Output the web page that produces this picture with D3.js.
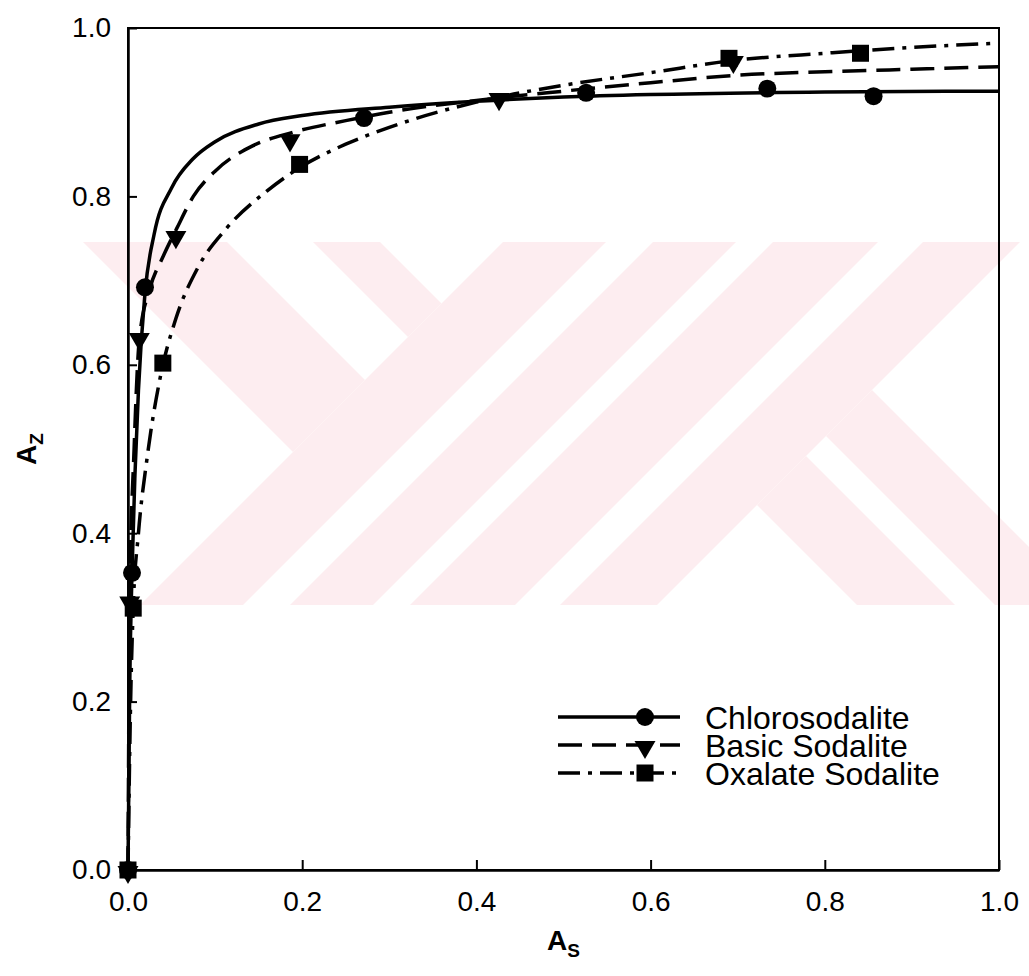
<!DOCTYPE html>
<html>
<head>
<meta charset="utf-8">
<script src="https://cdn.jsdelivr.net/npm/d3@7/dist/d3.min.js"></script>
<style>
  body { margin: 0; background: #fff; }
  svg text { font-family: "Liberation Sans", Arial, sans-serif; fill: #000; }
</style>
</head>
<body>
<svg id="chart" width="1029" height="976"></svg>
<script>
// measured points
const chloroPts = [[0,0],[0.0046,0.353],[0.0195,0.692],[0.271,0.893],[0.526,0.923],[0.734,0.928],[0.856,0.919]];
const basicPts  = [[0,0],[0.002,0.32],[0.013,0.633],[0.055,0.754],[0.186,0.869],[0.426,0.918],[0.695,0.962]];
const oxalPts   = [[0,0],[0.006,0.311],[0.04,0.602],[0.197,0.838],[0.69,0.964],[0.841,0.970]];

// fitted curves
const chloroFit = [[0,0],[0.002,0.22],[0.0046,0.353],[0.008,0.47],[0.012,0.57],[0.0195,0.685],[0.03,0.755],
  [0.05,0.81],[0.075,0.845],[0.1,0.865],[0.15,0.886],[0.2,0.896],[0.3,0.906],[0.4,0.913],[0.5,0.918],
  [0.6,0.921],[0.8,0.924],[1.0,0.925]];
const basicFit = [[0,0],[0.002,0.32],[0.007,0.5],[0.013,0.63],[0.025,0.69],[0.04,0.728],[0.056,0.762],
  [0.075,0.80],[0.1,0.83],[0.143,0.86],[0.189,0.876],[0.25,0.89],[0.3,0.9],[0.4,0.914],[0.5,0.925],
  [0.6,0.935],[0.7,0.944],[0.8,0.948],[0.9,0.951],[1.0,0.954]];
const oxalFit = [[0,0],[0.003,0.2],[0.006,0.311],[0.012,0.40],[0.022,0.49],[0.037,0.585],[0.055,0.655],
  [0.08,0.715],[0.113,0.762],[0.159,0.806],[0.2,0.836],[0.25,0.862],[0.3,0.882],[0.4,0.912],[0.5,0.932],
  [0.6,0.947],[0.7,0.962],[0.8,0.97],[0.9,0.977],[1.0,0.982]];

const seriesNames = ['Chlorosodalite', 'Basic Sodalite', 'Oxalate Sodalite'];
const xTicks = [0, 0.2, 0.4, 0.6, 0.8, 1.0];
const yTicks = [0, 0.2, 0.4, 0.6, 0.8, 1.0];

const series = [
  {name: seriesNames[0], pts: chloroPts, fit: chloroFit, dash: null, sym: 'circle'},
  {name: seriesNames[1], pts: basicPts, fit: basicFit, dash: '24,10', sym: 'tri'},
  {name: seriesNames[2], pts: oxalPts, fit: oxalFit, dash: '22,8,4,8', sym: 'square'}
];

const svg = d3.select('#chart');
const m = {left: 128, right: 30, top: 28, bottom: 106};
const W = 1029, H = 976;

// faint background stamp (diagonal bands, in u = x+y / v = x-y pixel space)
const stampBox = [83, 242, 1029, 605];
const stampBands = [
  [-2000, 745, -159, -15], [-2000, 745, 71, 138],   // upper-left arms
  [745, 848, -2000, 2000], [895, 978, -2000, 2000],
  [1015, 1120, -2000, 2000], [1165, 1262, -2000, 2000],
  [1262, 3000, 252, 350], [1262, 3000, 390, 482]    // lower-right legs
];

const x = d3.scaleLinear().domain([0, 1]).range([m.left, W - m.right]);
const y = d3.scaleLinear().domain([0, 1]).range([H - m.bottom, m.top]);

svg.append('clipPath').attr('id', 'stamp-clip')
  .append('rect')
  .attr('x', stampBox[0]).attr('y', stampBox[1])
  .attr('width', stampBox[2] - stampBox[0]).attr('height', stampBox[3] - stampBox[1]);

const uv = (u, v) => [(u + v) / 2, (u - v) / 2];
svg.append('g').attr('clip-path', 'url(#stamp-clip)')
  .selectAll('polygon')
  .data(stampBands)
  .join('polygon')
  .attr('points', b => [uv(b[0], b[2]), uv(b[1], b[2]), uv(b[1], b[3]), uv(b[0], b[3])].map(p => p.join(',')).join(' '))
  .attr('fill', '#fdedf0');

const line = d3.line()
  .x(d => x(d[0]))
  .y(d => y(d[1]))
  .curve(d3.curveMonotoneX);

function symbolPath(kind) {
  if (kind === 'circle') return d3.symbol(d3.symbolCircle, 254)();
  if (kind === 'square') return d3.symbol(d3.symbolSquare, 289)();
  return d3.symbol(d3.symbolTriangle, 190)();
}
function symbolTransform(kind, px, py) {
  return kind === 'tri' ? `translate(${px},${py + 2}) rotate(180)` : `translate(${px},${py})`;
}

// frame
svg.append('rect')
  .attr('x', x(0)).attr('y', y(1))
  .attr('width', x(1) - x(0)).attr('height', y(0) - y(1))
  .attr('fill', 'none').attr('stroke', '#000').attr('stroke-width', 2);

// axes
const xAxis = svg.append('g')
  .attr('transform', `translate(0,${y(0)})`)
  .call(d3.axisBottom(x).tickValues(xTicks).tickFormat(d3.format('.1f'))
    .tickSizeInner(-10).tickSizeOuter(0).tickPadding(21));
const yAxis = svg.append('g')
  .attr('transform', `translate(${x(0)},0)`)
  .call(d3.axisLeft(y).tickValues(yTicks).tickFormat(d3.format('.1f'))
    .tickSizeInner(-9).tickSizeOuter(0).tickPadding(17));

[xAxis, yAxis].forEach(g => {
  g.select('.domain').attr('stroke', '#000').attr('stroke-width', 2.5);
  g.selectAll('.tick line').attr('stroke', '#000').attr('stroke-width', 2);
  g.selectAll('.tick text').attr('font-size', 28).attr('font-family', '"Liberation Sans", Arial, sans-serif');
});

// curves
series.forEach(s => {
  svg.append('path')
    .datum(s.fit)
    .attr('d', line)
    .attr('fill', 'none')
    .attr('stroke', '#000')
    .attr('stroke-width', 3.5)
    .attr('stroke-dasharray', s.dash);
});

// markers
series.forEach(s => {
  svg.append('g').selectAll('path')
    .data(s.pts)
    .join('path')
    .attr('d', symbolPath(s.sym))
    .attr('transform', d => symbolTransform(s.sym, x(d[0]), y(d[1])))
    .attr('fill', '#000');
});

// legend
const legend = svg.append('g');
const legY = [717, 745, 773];
series.forEach((s, i) => {
  const g = legend.append('g').attr('transform', `translate(0,${legY[i]})`);
  g.append('line')
    .attr('x1', 558).attr('x2', 680).attr('y1', 0).attr('y2', 0)
    .attr('stroke', '#000').attr('stroke-width', 3.5)
    .attr('stroke-dasharray', s.dash);
  g.append('path')
    .attr('d', symbolPath(s.sym))
    .attr('transform', symbolTransform(s.sym, 645, 0))
    .attr('fill', '#000');
  g.append('text')
    .attr('x', 705).attr('y', 0).attr('dy', '0.36em')
    .attr('font-size', 32)
    .text(s.name);
});

// axis titles
const xt = svg.append('text')
  .attr('x', (x(0) + x(1)) / 2).attr('y', 950)
  .attr('text-anchor', 'middle').attr('font-weight', 'bold').attr('font-size', 28);
xt.append('tspan').text('A');
xt.append('tspan').attr('font-size', 19).attr('dy', 7).text('S');

const yt = svg.append('text')
  .attr('transform', `translate(36,${(y(0) + y(1)) / 2}) rotate(-90)`)
  .attr('text-anchor', 'middle').attr('font-weight', 'bold').attr('font-size', 28);
yt.append('tspan').text('A');
yt.append('tspan').attr('font-size', 19).attr('dy', 7).text('Z');
</script>
</body>
</html>
